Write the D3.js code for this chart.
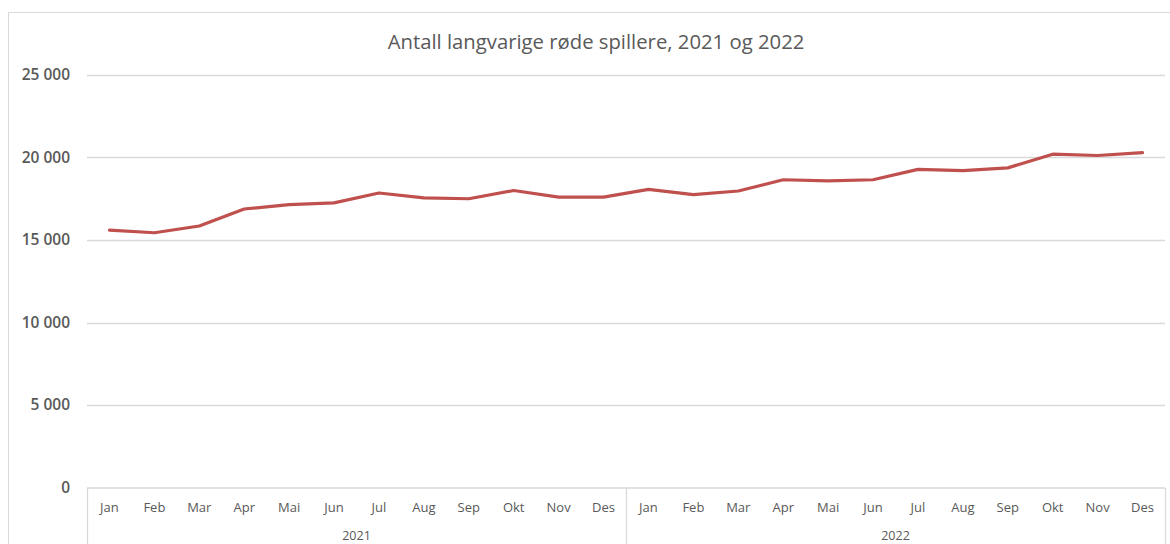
<!DOCTYPE html>
<html><head><meta charset="utf-8">
<script src="https://cdn.jsdelivr.net/npm/d3@7"></script>
<style>body{margin:0;background:#fff;} svg{display:block;}</style>
</head><body>
<script>
const title = "Antall langvarige røde spillere, 2021 og 2022";
const months = ["Jan","Feb","Mar","Apr","Mai","Jun","Jul","Aug","Sep","Okt","Nov","Des"];
const years = ["2021","2022"];
const values2021 = [15600,15440,15850,16880,17140,17250,17850,17550,17500,18000,17600,17600];
const values2022 = [18070,17750,17970,18650,18580,18650,19280,19200,19370,20200,20120,20290];
const yTicks = [0,5000,10000,15000,20000,25000];

(function(){
const W = 1170, H = 544;
const svg = d3.select("body").append("svg").attr("width", W).attr("height", H);
const font = "'Open Sans', sans-serif";
const txt = "#595959", grid = "#d9d9d9";

svg.append("rect").attr("x",8.5).attr("y",12.5).attr("width",W+20).attr("height",H+20)
  .attr("fill","none").attr("stroke",grid);

const data = [];
years.forEach((yr,i)=>{ const vals = i===0?values2021:values2022; months.forEach((m,j)=>data.push({key:yr+"-"+m,month:m,year:yr,v:vals[j]})); });

const pl = 87, pr = 1165, pt = 75, pb = 487.5;
const x = d3.scaleBand().domain(data.map(d=>d.key)).range([pl,pr]);
const y = d3.scaleLinear().domain([0,25000]).range([pb,pt]);
const fmt = d3.formatLocale({decimal:",",thousands:" ",grouping:[3],currency:["",""]}).format(",");

svg.append("g").selectAll("line").data(yTicks.filter(t=>t>0)).join("line")
  .attr("x1",pl).attr("x2",pr).attr("y1",d=>Math.round(y(d))+0.5).attr("y2",d=>Math.round(y(d))+0.5)
  .attr("stroke",grid).attr("stroke-width",1.3);

svg.append("g").selectAll("text").data(yTicks).join("text")
  .attr("x",70).attr("y",d=>y(d)).attr("dy","0.35em").attr("text-anchor","end")
  .attr("font-family",font).attr("font-size",15.5).attr("font-weight",600).attr("fill",txt)
  .text(d=>fmt(d));

svg.append("line").attr("x1",pl).attr("x2",pr).attr("y1",488).attr("y2",488).attr("stroke",grid).attr("stroke-width",1.3);
const groupEdges = [x(years[0]+"-Jan"), x(years[1]+"-Jan"), pr];
svg.append("g").selectAll("line").data(groupEdges).join("line")
  .attr("x1",d=>Math.round(d)+0.5).attr("x2",d=>Math.round(d)+0.5).attr("y1",488).attr("y2",H)
  .attr("stroke",grid).attr("stroke-width",1.3);

svg.append("g").selectAll("text").data(data).join("text")
  .attr("x",d=>x(d.key)+x.bandwidth()/2).attr("y",512).attr("text-anchor","middle")
  .attr("font-family",font).attr("font-size",13).attr("fill",txt).text(d=>d.month);

svg.append("g").selectAll("text").data(years).join("text")
  .attr("x",yr=>(x(yr+"-Jan")+x(yr+"-Des")+x.bandwidth())/2).attr("y",540).attr("text-anchor","middle")
  .attr("font-family",font).attr("font-size",12.5).attr("fill",txt).text(d=>d);

svg.append("path").datum(data)
  .attr("d", d3.line().x(d=>x(d.key)+x.bandwidth()/2).y(d=>y(d.v)))
  .attr("fill","none").attr("stroke","#C0504D").attr("stroke-width",3.2).attr("stroke-linejoin","round").attr("stroke-linecap","round");

svg.append("text").attr("x",596).attr("y",49).attr("text-anchor","middle")
  .attr("font-family",font).attr("font-size",20.3).attr("fill",txt).text(title);
})();
</script>
</body></html>
